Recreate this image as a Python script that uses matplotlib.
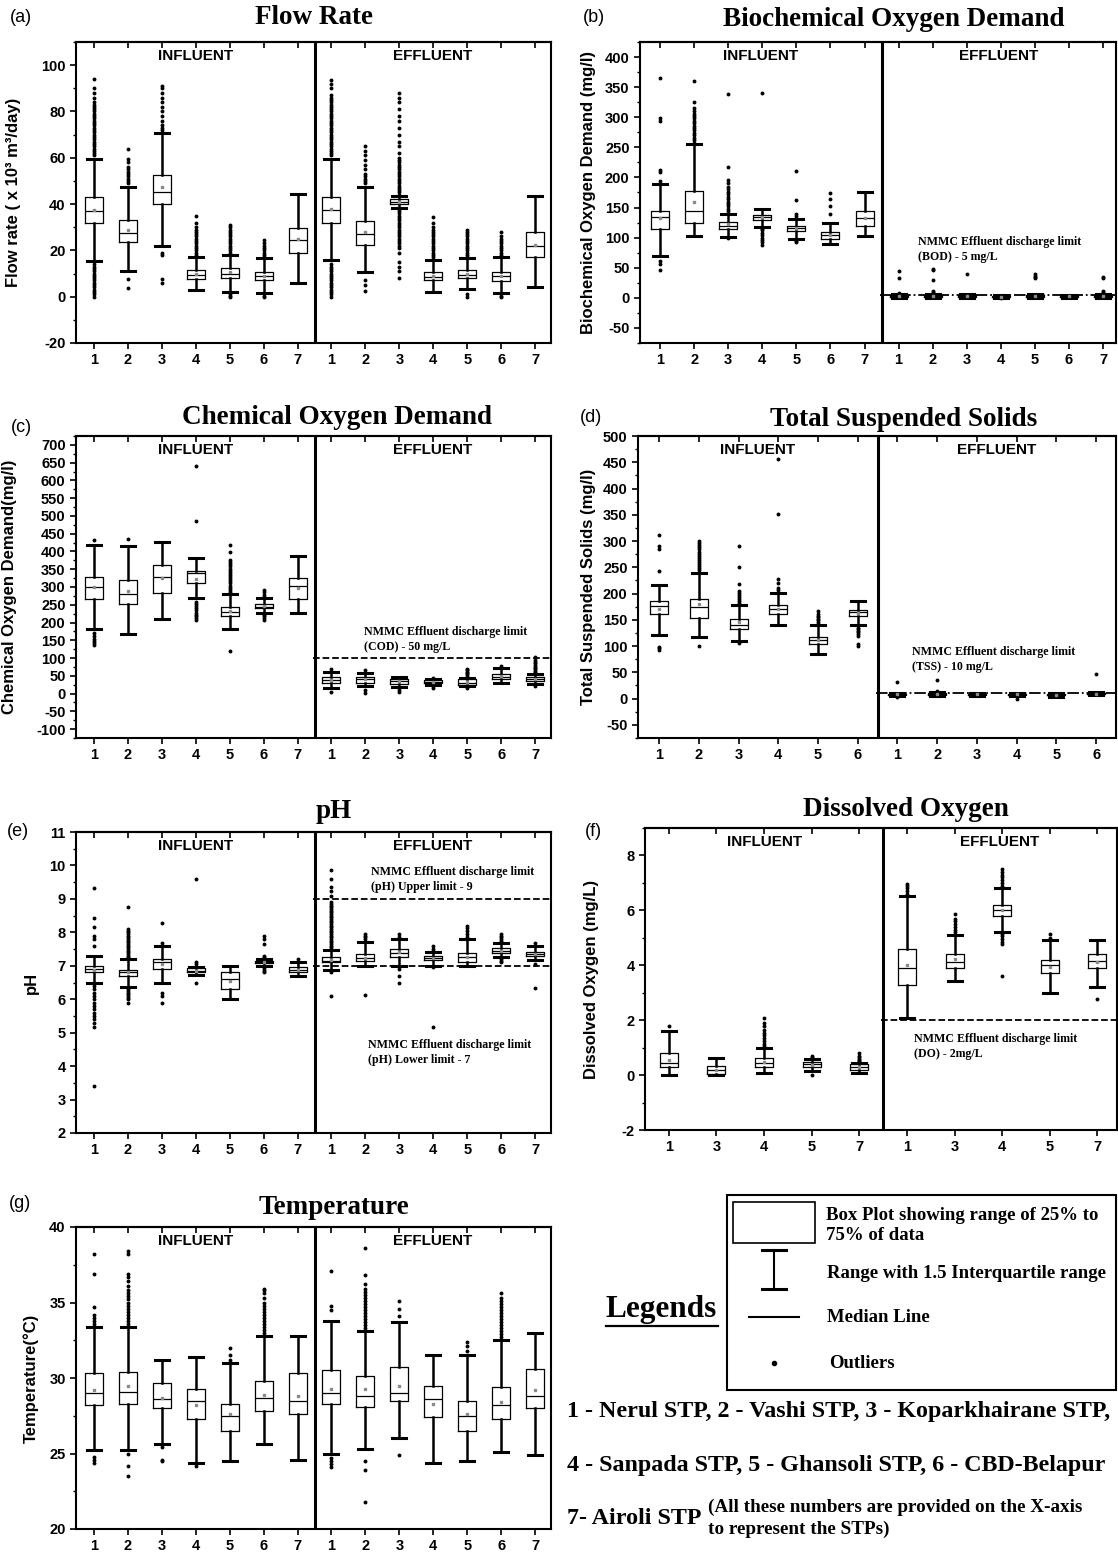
"""Box plots of STP influent / effluent quality (7 parameters) with legend panel."""

import numpy as np
import matplotlib
matplotlib.use("Agg")
import matplotlib.pyplot as plt
from matplotlib.ticker import MultipleLocator

W, H = 1118, 1555
SANS = "Liberation Sans"
SERIF = "Liberation Serif"

plt.rcParams["font.family"] = SANS
plt.rcParams["font.weight"] = "bold"
plt.rcParams["axes.unicode_minus"] = False

STP7 = ["1", "2", "3", "4", "5", "6", "7"]
STP6 = ["1", "2", "3", "4", "5", "6"]
STP_DO = ["1", "3", "4", "5", "7"]

# ---- (a) flow rate, influent 1-7 then effluent 1-7 ----
FLOW_LO = [15.5, 11, 22, 3, 2, 1.5, 6, 16, 10.5, 38.5, 2, 3.5, 1.5, 4]
FLOW_Q1 = [32, 23.5, 40, 7.5, 8, 7, 19, 32, 22.5, 40, 7, 8, 6.8, 17.3]
FLOW_MED = [37, 27.5, 45, 9.5, 10, 8.8, 24.5, 37.5, 27, 41, 8.5, 9.5, 8.8, 22]
FLOW_Q3 = [43, 33, 52.5, 11.5, 12.3, 10.5, 29.5, 43, 32.5, 42, 10.8, 11.5, 10.8, 28]
FLOW_HI = [59.5, 47.5, 70.5, 17, 18, 16.5, 44.5, 59.5, 47.5, 43.5, 16, 16.5, 17, 43.5]
FLOW_MEAN = [37.5, 29, 47.5, 10, 10.5, 9, 25, 38, 28, 41, 9, 10, 9, 22.5]
FLOW_FLIERS = [
    [0, 1, 2, 3, 4, 5, 6, 7, 8, 9, 10, 11, 12, 13, 14, 61, 62, 63, 64, 65, 66, 67, 68, 69, 70,
     71, 72, 73, 74, 75, 76, 77, 78, 79, 80, 81, 82, 83, 84, 86, 88, 90, 94],
    [3.8, 7.5, 49, 50, 51, 52, 53, 54, 55, 56, 58, 59.5, 64],
    [6, 7.5, 18, 19, 72, 73, 74, 76, 78, 80, 82, 84, 86, 88, 90, 91],
    [18, 19, 20, 21, 22, 23, 24, 25, 26, 27, 28, 29, 30, 32, 35],
    [0, 0.5, 1, 19, 20, 21, 22, 23, 24, 25, 26, 27, 28, 29, 30, 31],
    [0, 0.5, 17, 18, 19, 20, 21, 22, 23, 24.5],
    [],
    [0, 1, 2, 3, 4, 5, 6, 7, 8, 9, 10, 11, 12, 13, 14, 61, 62, 63, 64, 65, 66, 67, 68, 69, 70,
     71, 72, 73, 74, 75, 76, 77, 78, 79, 80, 81, 82, 83, 84, 85, 86, 87, 90, 92, 93.5],
    [2.5, 5, 7, 49, 50, 51, 52, 53, 55, 57, 59, 61, 63, 65],
    [8, 11, 13, 15, 19, 21, 22, 23, 24, 25, 26, 27, 28, 29, 30, 31, 32, 33, 34, 35, 36, 37, 38,
     44, 45, 46, 47, 48, 49, 50, 51, 52, 53, 54, 55, 56, 57, 58, 59, 60, 62, 65, 67, 70, 73,
     76, 78, 81, 84, 86, 88],
    [17, 18, 19, 20, 21, 22, 23, 24, 25, 26, 27, 28, 29, 30, 32, 34.5],
    [0, 1, 17, 18, 19, 20, 21, 22, 23, 24, 25, 26, 27, 28, 29],
    [0, 0.5, 18, 19, 20, 21, 22, 23, 24, 25, 26, 28],
    [],
]

# ---- (b) BOD ----
BOD_LO = [70, 102, 101, 117, 98, 89, 103, 0.5, 0.5, 0.5, 0, 0.5, 0.5, 0.5]
BOD_Q1 = [115, 124, 115, 129, 111, 98, 119, 2, 2, 2, 1, 2, 2, 2]
BOD_MED = [134, 144, 120, 134, 116, 104, 132, 3, 3, 3, 2, 3, 3, 3]
BOD_Q3 = [145, 178, 126, 138, 120, 109, 144, 4, 4.5, 4, 3, 4, 4, 4]
BOD_HI = [189, 256, 139, 147, 131, 125, 175, 6, 7, 6, 4, 6, 5, 7]
BOD_MEAN = [132, 160, 122, 134, 116, 104, 133, 3, 3.5, 3, 2, 3, 3, 3.5]
BOD_FLIERS = [
    [46, 56, 61, 194, 209, 212, 294, 299, 365],
    [258, 262, 266, 270, 274, 278, 282, 286, 290, 294, 298, 302, 306, 310, 315, 325, 360],
    [100, 144, 148, 152, 156, 160, 164, 168, 172, 176, 180, 184, 190, 196, 218, 338],
    [88, 92, 96, 100, 104, 108, 112, 115, 340],
    [92, 95, 136, 140, 162, 210],
    [140, 152, 165, 174],
    [],
    [8, 33, 45],
    [9, 12, 30, 46, 48],
    [40],
    [-1],
    [33, 35, 37, 39],
    [],
    [9, 11, 33, 35],
]

# ---- (c) COD ----
COD_LO = [182, 169, 211, 268, 183, 227, 227, 15, 20, 18, 25, 20, 30, 27]
COD_Q1 = [267, 253, 283, 311, 219, 240, 267, 30, 30, 27, 30, 25, 40, 35]
COD_MED = [301, 281, 327, 338, 229, 245, 303, 38, 40, 35, 34, 30, 48, 40]
COD_Q3 = [329, 319, 361, 344, 243, 252, 324, 48, 47, 40, 38, 40, 56, 48]
COD_HI = [417, 415, 427, 382, 281, 268, 386, 62, 58, 47, 42, 45, 73, 55]
COD_MEAN = [300, 290, 325, 323, 232, 246, 296, 38, 40, 35, 34, 32, 50, 42]
COD_FLIERS = [
    [137, 142, 148, 155, 162, 170, 432],
    [435],
    [],
    [207, 212, 217, 222, 228, 234, 240, 246, 252, 258, 485, 641],
    [119, 286, 292, 298, 304, 310, 316, 322, 328, 334, 340, 346, 352, 358, 364, 370, 376, 399, 419],
    [208, 213, 218, 222, 272, 278, 285, 291],
    [],
    [5, 70],
    [1, 10, 66],
    [5, 10],
    [15, 20, 45],
    [15, 50, 54, 58, 62, 66, 70],
    [78],
    [20, 60, 64, 68, 72, 76, 80, 85, 90, 95, 104],
]

# ---- (d) TSS, stations 1-6 ----
TSS_LO = [122, 118, 110, 140, 84, 140, 5, 5, 5, 5, 4, 6]
TSS_Q1 = [161, 154, 133, 161, 104, 158, 7, 6, 7, 7, 6, 8]
TSS_MED = [176, 175, 141, 170, 111, 165, 8, 8, 8, 8, 7, 9]
TSS_Q3 = [185, 189, 151, 178, 118, 169, 9, 10, 9, 9, 8, 10]
TSS_HI = [216, 240, 178, 201, 140, 186, 11, 13, 11, 10, 10, 12]
TSS_MEAN = [170, 180, 145, 170, 112, 163, 8, 8.5, 8, 8, 7, 9]
TSS_FLIERS = [
    [93, 96, 99, 243, 285, 290, 312],
    [100, 244, 248, 252, 256, 260, 264, 268, 272, 276, 280, 284, 288, 292, 296, 300],
    [106, 182, 186, 190, 194, 198, 202, 205, 219, 250, 290],
    [206, 210, 220, 228, 351, 457],
    [143, 146, 149, 152, 155, 158, 161, 166],
    [100, 104, 120, 123, 126, 129, 132, 135],
    [3, 31],
    [15, 35],
    [],
    [-1],
    [],
    [47],
]

# ---- (e) pH ----
PH_LO = [6.48, 6.37, 6.5, 6.73, 6.0, 7.0, 6.68, 6.87, 7.0, 7.0, 7.0, 7.0, 7.27, 7.18]
PH_Q1 = [6.8, 6.7, 6.9, 6.8, 6.3, 7.07, 6.8, 7.1, 7.14, 7.27, 7.17, 7.12, 7.38, 7.29]
PH_MED = [6.9, 6.8, 7.1, 6.85, 6.6, 7.1, 6.88, 7.15, 7.22, 7.39, 7.23, 7.27, 7.45, 7.36]
PH_Q3 = [7.0, 6.88, 7.2, 6.92, 6.8, 7.13, 6.95, 7.25, 7.35, 7.5, 7.3, 7.39, 7.52, 7.42]
PH_HI = [7.3, 7.2, 7.6, 6.97, 7.0, 7.2, 7.1, 7.47, 7.72, 7.79, 7.4, 7.79, 7.67, 7.6]
PH_MEAN = [6.88, 6.8, 7.05, 6.85, 6.55, 7.1, 6.88, 7.18, 7.24, 7.4, 7.24, 7.27, 7.45, 7.36]
PH_FLIERS = [
    [3.4, 5.18, 5.3, 5.4, 5.5, 5.6, 5.7, 5.8, 5.9, 6.0, 6.1, 6.2, 6.3, 6.4,
     7.6, 7.8, 7.9, 8.15, 8.44, 9.34],
    [5.9, 6.0, 6.05, 6.1, 6.15, 6.2, 6.25, 6.3, 7.25, 7.3, 7.35, 7.4, 7.45, 7.5, 7.55, 7.6,
     7.65, 7.7, 7.75, 7.8, 7.85, 7.9, 7.95, 8.0, 8.05, 8.1, 8.76],
    [5.9, 6.1, 6.2, 7.69, 8.29],
    [6.5, 7.05, 7.1, 9.59],
    [],
    [6.8, 6.85, 6.9, 6.95, 7.25, 7.3, 7.64, 7.8, 7.9],
    [7.2],
    [6.1, 6.8, 7.5, 7.55, 7.6, 7.65, 7.7, 7.75, 7.8, 7.85, 7.9, 7.95, 8.0, 8.05, 8.1, 8.15,
     8.2, 8.25, 8.3, 8.35, 8.4, 8.45, 8.5, 8.55, 8.6, 8.65, 8.7, 8.75, 8.8, 8.85, 8.9,
     9.1, 9.25, 9.35, 9.6, 9.86],
    [6.13, 7.8, 7.85, 7.9, 7.95],
    [6.5, 6.7, 6.9, 7.85, 7.94],
    [5.18, 6.95, 7.45, 7.5, 7.6],
    [7.85, 7.95, 8.05, 8.12, 8.19],
    [7.1, 7.15, 7.2, 7.7, 7.75, 7.8, 7.85, 7.9, 7.95],
    [6.33, 7.05, 7.69],
]

# ---- (f) dissolved oxygen, stations 1,3,4,5,7 ----
DO_LO = [0.0, 0.0, 0.08, 0.15, 0.08, 2.08, 3.41, 5.2, 3.0, 3.2]
DO_Q1 = [0.29, 0.04, 0.29, 0.29, 0.19, 3.29, 3.9, 5.8, 3.72, 3.9]
DO_MED = [0.43, 0.19, 0.43, 0.39, 0.3, 3.9, 4.12, 6.0, 4.0, 4.17]
DO_Q3 = [0.82, 0.34, 0.62, 0.47, 0.41, 4.59, 4.41, 6.21, 4.2, 4.41]
DO_HI = [1.59, 0.62, 1.0, 0.58, 0.45, 6.52, 5.12, 6.82, 4.93, 4.93]
DO_MEAN = [0.55, 0.2, 0.48, 0.38, 0.3, 4.02, 4.23, 6.0, 3.95, 4.12]
DO_FLIERS = [
    [1.77],
    [],
    [1.05, 1.15, 1.25, 1.35, 1.45, 1.55, 1.65, 1.77, 1.9, 2.08],
    [0.0, 0.65, 0.7],
    [0.5, 0.55, 0.6, 0.65, 0.7, 0.8],
    [6.6, 6.7, 6.8, 6.9, 6.97],
    [5.2, 5.3, 5.4, 5.5, 5.6, 5.7, 5.85],
    [3.6, 4.79, 4.85, 4.95, 5.05, 5.15, 6.9, 7.0, 7.1, 7.2, 7.3, 7.4, 7.5],
    [5.0, 5.14],
    [2.78],
]

# ---- (g) temperature ----
TEMP_LO = [25.2, 25.2, 25.6, 24.4, 24.5, 25.6, 24.6, 25.0, 25.3, 26.0, 24.4, 24.5, 25.1, 24.9]
TEMP_Q1 = [28.2, 28.3, 28.0, 27.3, 26.5, 27.8, 27.6, 28.3, 28.1, 28.5, 27.4, 26.5, 27.3, 28.0]
TEMP_MED = [29.0, 29.1, 28.6, 28.5, 27.5, 28.7, 28.5, 29.0, 28.8, 29.0, 28.6, 27.5, 28.2, 28.8]
TEMP_Q3 = [30.3, 30.4, 29.7, 29.3, 28.3, 29.8, 30.3, 30.5, 30.1, 30.7, 29.5, 28.5, 29.4, 30.6]
TEMP_HI = [33.4, 33.4, 31.2, 31.4, 31.0, 32.8, 32.8, 33.8, 33.1, 33.7, 31.5, 31.5, 32.5, 33.0]
TEMP_MEAN = [29.2, 29.5, 28.7, 28.2, 27.6, 28.9, 28.8, 29.3, 29.3, 29.5, 28.3, 27.6, 28.4, 29.2]
TEMP_FLIERS = [
    [24.4, 24.6, 24.8, 33.6, 33.8, 34.0, 34.2, 34.7, 36.9, 38.2],
    [23.5, 24.2, 25.0, 33.6, 33.8, 34.0, 34.2, 34.4, 34.6, 34.8, 35.0, 35.2, 35.4, 35.6, 35.8,
     36.1, 36.4, 36.7, 36.9, 38.2, 38.4],
    [24.5, 24.6, 25.4],
    [24.2],
    [31.2, 31.5, 32.0],
    [33.0, 33.2, 33.4, 33.6, 33.8, 34.0, 34.2, 34.4, 34.6, 34.8, 35.0, 35.3, 35.6, 35.8, 35.9],
    [],
    [24.1, 24.3, 24.5, 24.7, 34.5, 34.8, 37.1],
    [21.8, 23.9, 24.5, 33.3, 33.5, 33.7, 33.9, 34.1, 34.3, 34.5, 34.7, 34.9, 35.1, 35.3, 35.5,
     35.7, 35.9, 36.2, 36.8, 38.6],
    [24.9, 34.1, 34.6, 35.1],
    [],
    [31.8, 32.1, 32.4],
    [32.7, 32.9, 33.1, 33.3, 33.5, 33.7, 33.9, 34.1, 34.3, 34.5, 34.7, 34.9, 35.1, 35.3, 35.6],
    [],
]

LIMIT_NOTE = "NMMC Effluent discharge limit"


def make_stats(lo, q1, med, q3, hi, mean, fliers):
    return [
        dict(whislo=a, q1=b, med=c, q3=d, whishi=e, mean=f, fliers=np.asarray(g, float))
        for a, b, c, d, e, f, g in zip(lo, q1, med, q3, hi, mean, fliers)
    ]


def px_rect(left, right, top, bottom):
    return [left / W, 1 - bottom / H, (right - left) / W, (bottom - top) / H]


def panel(fig, rect, xlim, ylim, major, minor, stats, labels, ylabel, ylabel_px):
    ax = fig.add_axes(px_rect(*rect))
    n = len(stats)
    pos = np.arange(1, n + 1)
    ppu = (rect[1] - rect[0]) / (xlim[1] - xlim[0])
    ax.bxp(
        stats,
        positions=pos,
        widths=18 / ppu,
        capwidths=14 / ppu,
        showmeans=True,
        manage_ticks=False,
        boxprops=dict(color="black", linewidth=0.9),
        whiskerprops=dict(color="black", linewidth=1.8),
        capprops=dict(color="black", linewidth=2.2),
        medianprops=dict(color="black", linewidth=0.9),
        meanprops=dict(marker="s", markersize=1.8, markerfacecolor="#8a8a8a",
                       markeredgecolor="#8a8a8a"),
        flierprops=dict(marker="o", markersize=2.8, markerfacecolor="black",
                        markeredgecolor="black", markeredgewidth=0),
    )
    ax.set_xlim(*xlim)
    ax.set_ylim(*ylim)
    ax.set_xticks(pos)
    ax.set_xticklabels(labels * 2)
    ax.yaxis.set_major_locator(MultipleLocator(major))
    ax.yaxis.set_minor_locator(MultipleLocator(minor))
    ax.tick_params(axis="both", which="major", labelsize=10.5, length=4, width=1.2)
    ax.tick_params(axis="y", which="minor", length=2.5, width=1)
    top = ax.secondary_xaxis("top")
    top.set_xticks(pos)
    top.set_xticklabels([])
    top.tick_params(direction="in", length=4, width=1.2)
    for s in list(ax.spines.values()) + [top.spines["top"]]:
        s.set_linewidth(1.5)
    half = n / 2 + 0.5
    ax.axvline(half, color="black", linewidth=2.2)
    tr = ax.get_xaxis_transform()
    ax.text((xlim[0] + half) / 2, 0.955, "INFLUENT", transform=tr, ha="center", va="center",
            fontsize=11)
    ax.text((xlim[1] + half) / 2, 0.955, "EFFLUENT", transform=tr, ha="center", va="center",
            fontsize=11)
    ax.set_ylabel(ylabel, fontsize=12, fontweight="bold")
    ax.yaxis.set_label_coords((ylabel_px - rect[0]) / (rect[1] - rect[0]), 0.5)
    return ax, half


def limit(ax, half, xmax, y, style):
    ax.plot([half - 0.05, xmax], [y, y], color="black", linestyle=style, linewidth=1.3)


def note(ax, x, y, text):
    ax.text(x, y, text, family=SERIF, fontweight="bold", fontsize=8.6, ha="left", va="top",
            linespacing=1.35)


def main():
    fig = plt.figure(figsize=(W / 100, H / 100), dpi=100)

    # (a)
    rect = (76, 551, 42, 343)
    xl = (0.47, 14.47)
    st = make_stats(FLOW_LO, FLOW_Q1, FLOW_MED, FLOW_Q3, FLOW_HI, FLOW_MEAN, FLOW_FLIERS)
    panel(fig, rect, xl, (-20, 110), 20, 10, st, STP7, "Flow rate ( x 10³ m³/day)", 21)

    # (b)
    rect = (640, 1116, 42, 343)
    xl = (0.41, 14.38)
    st = make_stats(BOD_LO, BOD_Q1, BOD_MED, BOD_Q3, BOD_HI, BOD_MEAN, BOD_FLIERS)
    ax, half = panel(fig, rect, xl, (-75, 425), 50, 25, st, STP7,
                     "Biochemical Oxygen Demand (mg/l)", 596)
    limit(ax, half, xl[1], 5, "-.")
    note(ax, 8.58, 103, LIMIT_NOTE + "\n(BOD) - 5 mg/L")

    # (c)
    rect = (76, 551, 436, 738)
    xl = (0.47, 14.47)
    st = make_stats(COD_LO, COD_Q1, COD_MED, COD_Q3, COD_HI, COD_MEAN, COD_FLIERS)
    ax, half = panel(fig, rect, xl, (-125, 725), 50, 25, st, STP7,
                     "Chemical Oxygen Demand(mg/l)", 17)
    limit(ax, half, xl[1], 100, "--")
    note(ax, 8.97, 190, LIMIT_NOTE + "\n(COD) - 50 mg/L")

    # (d)
    rect = (638, 1116, 436, 738)
    xl = (0.47, 12.5)
    st = make_stats(TSS_LO, TSS_Q1, TSS_MED, TSS_Q3, TSS_HI, TSS_MEAN, TSS_FLIERS)
    ax, half = panel(fig, rect, xl, (-75, 500), 50, 25, st, STP6,
                     "Total Suspended Solids (mg/l)", 596)
    limit(ax, half, xl[1], 10, "-.")
    note(ax, 7.37, 100, LIMIT_NOTE + "\n(TSS) - 10 mg/L")

    # (e)
    rect = (76, 551, 832, 1133)
    xl = (0.47, 14.47)
    st = make_stats(PH_LO, PH_Q1, PH_MED, PH_Q3, PH_HI, PH_MEAN, PH_FLIERS)
    ax, half = panel(fig, rect, xl, (2, 11), 1, 0.5, st, STP7, "pH", 39)
    limit(ax, half, xl[1], 9, "--")
    limit(ax, half, xl[1], 7, "--")
    note(ax, 9.17, 9.98, LIMIT_NOTE + "\n(pH) Upper limit - 9")
    note(ax, 9.08, 4.81, LIMIT_NOTE + "\n(pH) Lower limit - 7")

    # (f)
    rect = (645, 1117, 828, 1130)
    xl = (0.5, 10.41)
    st = make_stats(DO_LO, DO_Q1, DO_MED, DO_Q3, DO_HI, DO_MEAN, DO_FLIERS)
    ax, half = panel(fig, rect, xl, (-2, 9), 2, 1, st, STP_DO, "Dissolved Oxygen (mg/L)", 599)
    limit(ax, half, xl[1], 2, "--")
    note(ax, 6.15, 1.55, LIMIT_NOTE + "\n(DO) - 2mg/L")

    # (g)
    rect = (76, 551, 1227, 1529)
    xl = (0.47, 14.47)
    st = make_stats(TEMP_LO, TEMP_Q1, TEMP_MED, TEMP_Q3, TEMP_HI, TEMP_MEAN, TEMP_FLIERS)
    panel(fig, rect, xl, (20, 40), 5, 2.5, st, STP7, "Temperature(°C)", 39)

    # overlay in pixel coordinates for titles, panel letters and the legend block
    ov = fig.add_axes([0, 0, 1, 1])
    ov.set_xlim(0, W)
    ov.set_ylim(H, 0)
    ov.set_axis_off()

    titles = [("Flow Rate", 314, 18), ("Biochemical Oxygen Demand", 894, 20),
              ("Chemical Oxygen Demand", 337, 417), ("Total Suspended Solids", 904, 420),
              ("pH", 334, 812), ("Dissolved Oxygen", 906, 810), ("Temperature", 334, 1208)]
    for text, x, y in titles:
        ov.text(x, y, text, family=SERIF, fontweight="bold", fontsize=19.5,
                ha="center", va="center")
    letters = [("(a)", 10, 18), ("(b)", 583, 18), ("(c)", 11, 427), ("(d)", 580, 418),
               ("(e)", 7, 832), ("(f)", 585, 832), ("(g)", 9, 1203)]
    for text, x, y in letters:
        ov.text(x, y, text, family=SANS, fontweight="normal", fontsize=13,
                ha="left", va="center")

    # legend block
    ov.add_patch(plt.Rectangle((727, 1195), 389, 195, fill=False, edgecolor="black",
                               linewidth=1.5))
    ov.add_patch(plt.Rectangle((733, 1202), 82, 41, fill=False, edgecolor="black",
                               linewidth=1.2))
    ov.plot([774, 774], [1250, 1289], color="black", linewidth=1.5)
    ov.plot([762, 786], [1250, 1250], color="black", linewidth=2.2)
    ov.plot([762, 786], [1289, 1289], color="black", linewidth=2.2)
    ov.plot([749, 799], [1317, 1317], color="black", linewidth=1.5)
    ov.plot([774], [1363], marker="o", markersize=3, color="black")
    leg_font = dict(family=SERIF, fontweight="bold", fontsize=13.5, ha="left", va="center")
    ov.text(826, 1215, "Box Plot showing range of 25% to", **leg_font)
    ov.text(826, 1236, "75% of data", **leg_font)
    ov.text(827, 1274, "Range with 1.5 Interquartile range", **leg_font)
    ov.text(827, 1317, "Median Line", **leg_font)
    ov.text(829, 1363, "Outliers", **leg_font)
    ov.text(661, 1310, "Legends", family=SERIF, fontweight="bold", fontsize=22.5,
            ha="center", va="center")
    ov.plot([606, 718], [1326, 1326], color="black", linewidth=1.6)

    stp_font = dict(family=SERIF, fontweight="bold", fontsize=17.3, ha="left", va="center")
    ov.text(567, 1412, "1 - Nerul STP, 2 - Vashi STP, 3 - Koparkhairane STP,", **stp_font)
    ov.text(567, 1465, "4 - Sanpada STP, 5 - Ghansoli STP, 6 - CBD-Belapur", **stp_font)
    ov.text(567, 1518, "7- Airoli STP", **stp_font)
    ov.text(708, 1507, "(All these numbers are provided on the X-axis", family=SERIF,
            fontweight="bold", fontsize=13.8, ha="left", va="center")
    ov.text(708, 1529, "to represent the STPs)", family=SERIF, fontweight="bold",
            fontsize=13.8, ha="left", va="center")

    fig.savefig("out.png", dpi=100, facecolor="white")
    plt.close(fig)


if __name__ == "__main__":
    main()
